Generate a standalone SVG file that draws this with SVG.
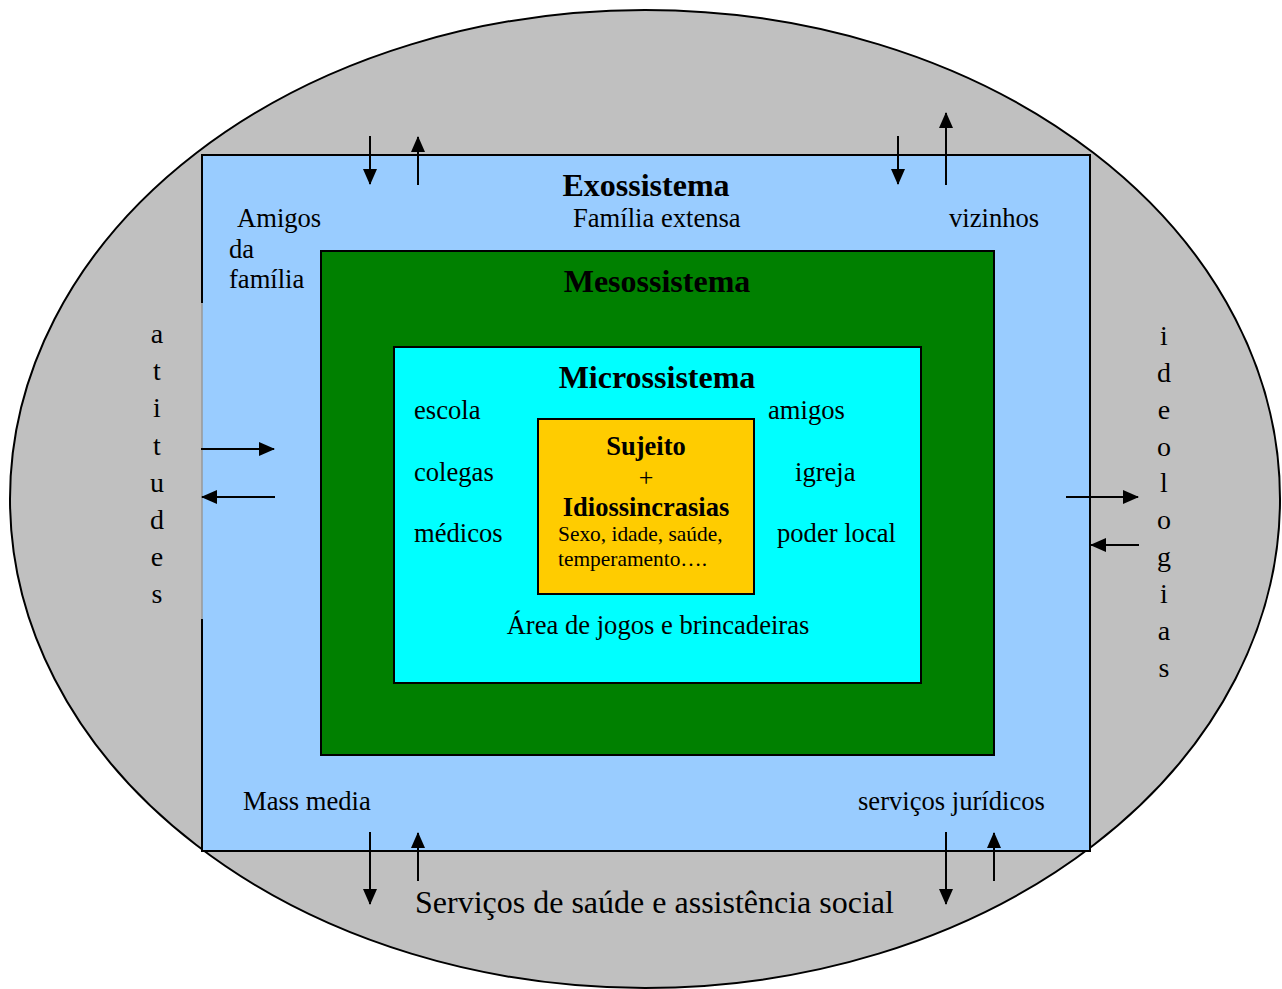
<svg xmlns="http://www.w3.org/2000/svg" width="1282" height="989" viewBox="0 0 1282 989">
<defs>
<marker id="ah" markerWidth="16" markerHeight="14" refX="15" refY="7" orient="auto" markerUnits="userSpaceOnUse">
<path d="M0,0 L16,7 L0,14 Z" fill="#000"/>
</marker>
<style>
.t{font-family:"Liberation Serif","Times New Roman",serif;fill:#000}
.r{font-size:26.6px}
.b{font-size:32px;font-weight:bold;text-anchor:middle}
.v{font-size:28px;text-anchor:middle}
.c{stroke:#000;stroke-width:2;fill:none;marker-end:url(#ah)}
</style>
</defs>
<rect width="1282" height="989" fill="#fff"/>
<g id="macrosystem">
<ellipse cx="645" cy="499" rx="635" ry="489" fill="#c0c0c0" stroke="#000" stroke-width="2"/>
<g class="t v">
<text x="157" y="343">a</text><text x="157" y="380">t</text><text x="157" y="417">i</text><text x="157" y="455">t</text><text x="157" y="492">u</text><text x="157" y="529">d</text><text x="157" y="566">e</text><text x="157" y="603">s</text>
<text x="1164" y="345">i</text><text x="1164" y="382">d</text><text x="1164" y="419">e</text><text x="1164" y="456">o</text><text x="1164" y="492">l</text><text x="1164" y="529">o</text><text x="1164" y="566">g</text><text x="1164" y="603">i</text><text x="1164" y="640">a</text><text x="1164" y="677">s</text>
</g>
<text class="t" x="415" y="913" font-size="32">Serviços de saúde e assistência social</text>
</g>
<g id="exosystem">
<rect x="202" y="155" width="888" height="696" fill="#99ccff" stroke="none"/>
<path d="M202,303 L202,155 L1090,155 L1090,851 L202,851 L202,619" fill="none" stroke="#000" stroke-width="2"/>
<line x1="202" y1="303" x2="202" y2="619" stroke="#999" stroke-width="1.5"/>
<text class="t b" x="646" y="196">Exossistema</text>
<text class="t r" x="573" y="227">Família extensa</text>
<text class="t r" x="237" y="227">Amigos</text>
<text class="t r" x="229" y="258">da</text>
<text class="t r" x="229" y="288">família</text>
<text class="t r" x="949" y="227">vizinhos</text>
<text class="t r" x="243" y="810">Mass media</text>
<text class="t r" x="858" y="810">serviços jurídicos</text>
</g>
<g id="mesosystem">
<rect x="321" y="251" width="673" height="504" fill="#008000" stroke="#000" stroke-width="2"/>
<text class="t b" x="657" y="292">Mesossistema</text>
</g>
<g id="microsystem">
<rect x="394" y="347" width="527" height="336" fill="#00ffff" stroke="#000" stroke-width="2"/>
<text class="t b" x="657" y="388">Microssistema</text>
<text class="t r" x="414" y="419">escola</text>
<text class="t r" x="414" y="481">colegas</text>
<text class="t r" x="414" y="542">médicos</text>
<text class="t r" x="768" y="419">amigos</text>
<text class="t r" x="795" y="481">igreja</text>
<text class="t r" x="777" y="542">poder local</text>
<text class="t r" x="658" y="634" text-anchor="middle">Área de jogos e brincadeiras</text>
</g>
<g id="subject">
<rect x="538" y="419" width="216" height="175" fill="#ffcc00" stroke="#000" stroke-width="2"/>
<text class="t" x="646" y="455" font-size="26.5" font-weight="bold" text-anchor="middle">Sujeito</text>
<text class="t" x="646" y="486" font-size="26" text-anchor="middle">+</text>
<text class="t" x="646" y="516" font-size="26.5" font-weight="bold" text-anchor="middle">Idiossincrasias</text>
<text class="t" x="558" y="541" font-size="21.4">Sexo, idade, saúde,</text>
<text class="t" x="558" y="566" font-size="21.4">temperamento….</text>
</g>
<g id="connectors">
<line class="c" x1="370" y1="136" x2="370" y2="184"/>
<line class="c" x1="418" y1="185" x2="418" y2="137"/>
<line class="c" x1="898" y1="136" x2="898" y2="184"/>
<line class="c" x1="946" y1="185" x2="946" y2="113"/>
<line class="c" x1="201" y1="449" x2="274" y2="449"/>
<line class="c" x1="275" y1="497" x2="202" y2="497"/>
<line class="c" x1="1066" y1="497" x2="1138" y2="497"/>
<line class="c" x1="1139" y1="545" x2="1091" y2="545"/>
<line class="c" x1="370" y1="832" x2="370" y2="904"/>
<line class="c" x1="418" y1="881" x2="418" y2="833"/>
<line class="c" x1="946" y1="832" x2="946" y2="904"/>
<line class="c" x1="994" y1="881" x2="994" y2="833"/>
</g>
</svg>
